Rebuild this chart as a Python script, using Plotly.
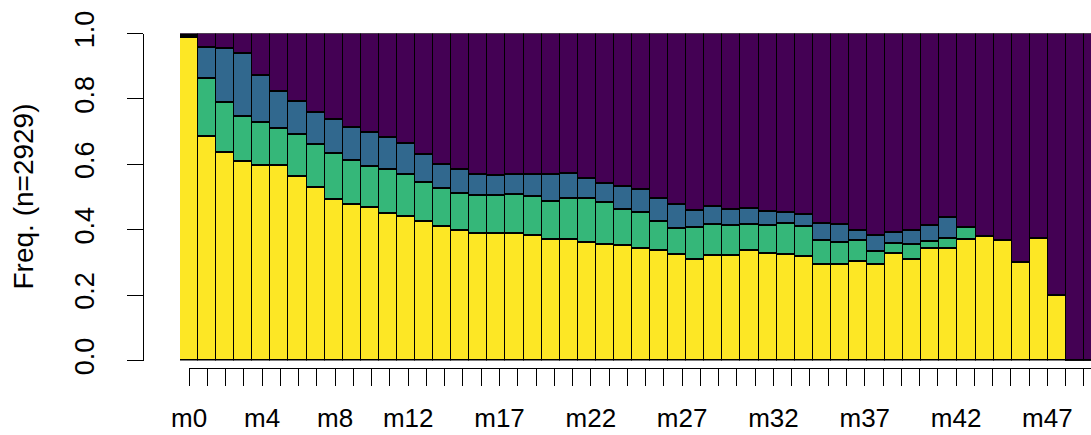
import plotly.graph_objects as go

# ---------------- data ----------------
positions = list(range(51))
categories = ["m%d" % i for i in positions]
shown_labels = {"m0", "m4", "m8", "m12", "m17", "m22", "m27", "m32", "m37", "m42", "m47"}
tick_text = [c if c in shown_labels else "" for c in categories]

state1 = [0.988, 0.685, 0.636, 0.608, 0.596, 0.597, 0.562, 0.528, 0.493, 0.477,
          0.468, 0.450, 0.439, 0.424, 0.411, 0.398, 0.387, 0.388, 0.388, 0.382,
          0.370, 0.370, 0.360, 0.355, 0.353, 0.341, 0.337, 0.324, 0.310, 0.321,
          0.321, 0.335, 0.328, 0.324, 0.319, 0.293, 0.293, 0.303, 0.293, 0.327,
          0.310, 0.341, 0.343, 0.369, 0.380, 0.366, 0.299, 0.374, 0.199, 0.000,
          0.000]
state2 = [0.007, 0.178, 0.153, 0.139, 0.131, 0.111, 0.128, 0.134, 0.140, 0.134,
          0.125, 0.133, 0.131, 0.120, 0.116, 0.114, 0.117, 0.116, 0.119, 0.119,
          0.116, 0.126, 0.135, 0.129, 0.108, 0.112, 0.087, 0.080, 0.097, 0.096,
          0.091, 0.082, 0.085, 0.094, 0.091, 0.074, 0.069, 0.063, 0.039, 0.032,
          0.045, 0.024, 0.031, 0.038, 0.000, 0.000, 0.000, 0.000, 0.000, 0.000,
          0.000]
state3 = [0.000, 0.095, 0.165, 0.192, 0.146, 0.114, 0.101, 0.096, 0.104, 0.103,
          0.103, 0.098, 0.094, 0.085, 0.072, 0.073, 0.066, 0.063, 0.061, 0.069,
          0.084, 0.076, 0.061, 0.058, 0.070, 0.070, 0.070, 0.073, 0.052, 0.054,
          0.050, 0.049, 0.044, 0.036, 0.036, 0.051, 0.053, 0.031, 0.051, 0.033,
          0.044, 0.048, 0.063, 0.000, 0.000, 0.000, 0.000, 0.000, 0.000, 0.000,
          0.000]
state4 = [round(1 - a - b - c, 3) for a, b, c in zip(state1, state2, state3)]

series = [("State 1", state1, "#FDE725"),
          ("State 2", state2, "#35B779"),
          ("State 3", state3, "#31688E"),
          ("State 4", state4, "#440154")]
y_ticks = [0.0, 0.2, 0.4, 0.6, 0.8, 1.0]

# ---------------- figure ----------------
W, H = 1091, 435
FONT = "Liberation Sans, Arial, Helvetica, sans-serif"

fig = go.Figure()
for name, vals, col in series:
    fig.add_trace(go.Bar(
        x=positions, y=vals, name=name, width=1.0,
        marker=dict(color=col, line=dict(color="black", width=1.2)),
        showlegend=False,
    ))
# carrier trace for the separate tick axis (invisible)
fig.add_trace(go.Scatter(x=[positions[0]], y=[0], xaxis="x2", yaxis="y",
                         mode="markers", marker=dict(opacity=0),
                         showlegend=False, hoverinfo="skip"))

bar_w_px = (1084 - 180) / 50.0
plot_left, plot_right = 180, W
x_max = -0.5 + (plot_right - plot_left) / bar_w_px
tick0_px = plot_left + bar_w_px / 2

y0_px, y1_px = 360.5, 33.5

fig.update_layout(
    width=W, height=H, autosize=False,
    margin=dict(l=0, r=0, t=0, b=0, pad=0, autoexpand=False),
    paper_bgcolor="white", plot_bgcolor="rgba(0,0,0,0)",
    barmode="stack", bargap=0,
    font=dict(family=FONT, color="black"),
    xaxis=dict(domain=[plot_left / W, 1], range=[-0.5, x_max],
               visible=False, anchor="y", fixedrange=True, automargin=False),
    xaxis2=dict(domain=[tick0_px / W, 1], range=[0, x_max - 0.5],
                anchor="free", position=(H - 367.7) / H, automargin=False,
                showline=True, linecolor="black", linewidth=1.2,
                ticks="outside", ticklen=17, tickwidth=1.2, tickcolor="black",
                tickmode="array", tickvals=positions, ticktext=tick_text,
                tickangle=0, ticklabelstandoff=10,
                tickfont=dict(size=26, family=FONT, color="black"),
                showgrid=False, zeroline=False),
    yaxis=dict(domain=[(H - y0_px) / H, (H - y1_px) / H], range=[0, 1],
               anchor="free", position=143 / W, automargin=False,
               showline=True, linecolor="black", linewidth=1.2,
               ticks="outside", ticklen=16, tickwidth=1.2, tickcolor="black",
               tickmode="array", tickvals=y_ticks,
               ticktext=["%.1f" % v for v in y_ticks],
               tickangle=-90, ticklabelstandoff=22,
               tickfont=dict(size=27, family=FONT, color="black"),
               showgrid=False, zeroline=False),
    annotations=[dict(text="Freq. (n=2929)", xref="paper", yref="paper",
                      x=22.5 / W, y=(H - 197) / H, textangle=-90,
                      showarrow=False, xanchor="center", yanchor="middle",
                      font=dict(size=28, family=FONT, color="black"))],
)

fig.write_html(
    "out.html",
    config={"displayModeBar": False},
    post_script="document.body.style.margin='0';document.body.style.padding='0';"
                "document.body.style.overflow='hidden';",
)
